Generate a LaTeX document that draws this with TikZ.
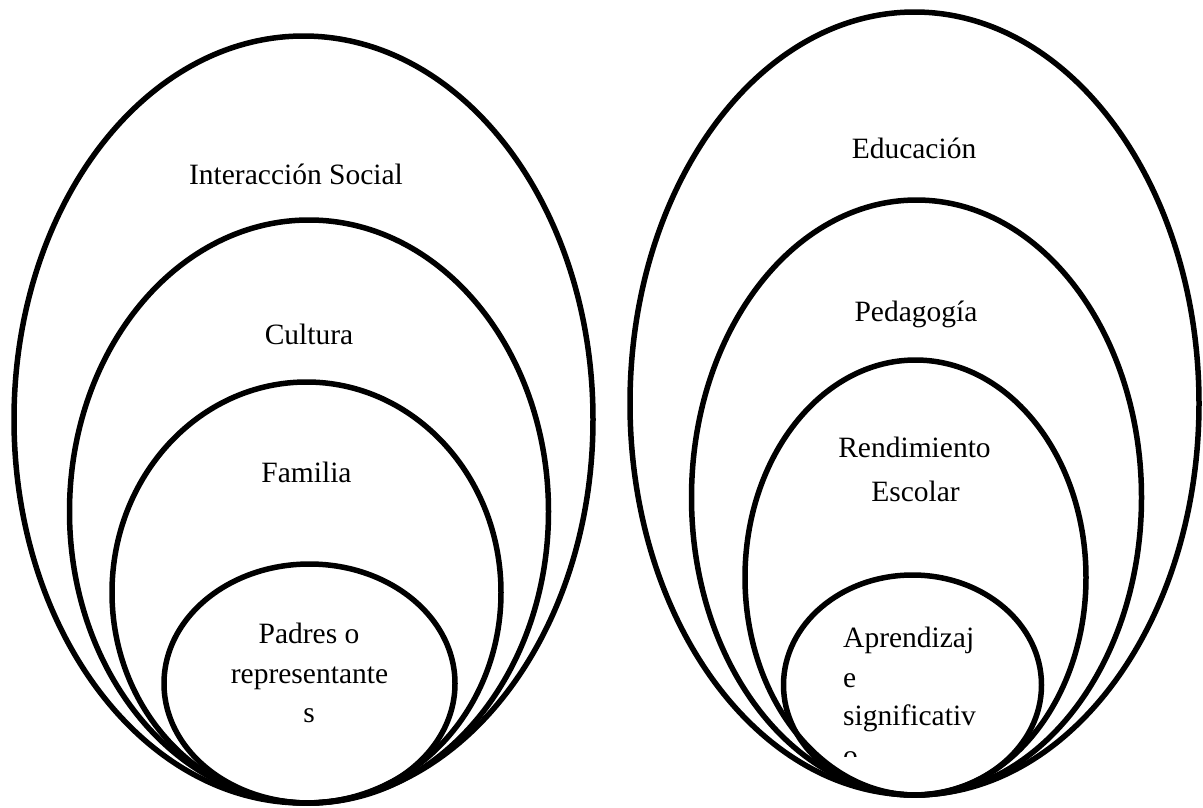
\documentclass[tikz,border=0pt]{standalone}
\usepackage{fontspec}
\setmainfont{Liberation Serif}
\begin{document}
\begin{tikzpicture}[x=1pt,y=-1pt,
  ring/.style={draw=black, line width=5.5pt},
  lbl/.style={font=\fontsize{29.5}{36}\selectfont, inner sep=0pt, anchor=base},
  lblw/.style={lbl, anchor=base west}]
\useasboundingbox (0,0) rectangle (1203,807);
% left group
\draw[ring] (303.5,419.5) ellipse [x radius=289.5, y radius=383.5];
\draw[ring] (309,511.5) ellipse [x radius=239.5, y radius=291.5];
\draw[ring] (306.5,592.5) ellipse [x radius=194.5, y radius=210.5];
\draw[ring] (309.5,683.5) ellipse [x radius=145.5, y radius=119.5];
\node[lbl] (is) at (296,184) {Interacción Social};
\node[lbl] (cu) at (309,344) {Cultura};
\node[lbl] (fa) at (306.5,482) {Familia};
\node[lbl] (p1) at (309,643) {Padres o};
\node[lbl] (p2) at (309.5,683) {representante};
\node[lbl] (p3) at (309,722) {s};
% right group
\draw[ring] (914.5,403.5) ellipse [x radius=284.5, y radius=391.5];
\draw[ring] (916.5,497.5) ellipse [x radius=225, y radius=297.5];
\draw[ring] (915.5,577.5) ellipse [x radius=170.5, y radius=217.5];
\draw[ring] (912.5,685) ellipse [x radius=129, y radius=110];
\node[lbl] (ed) at (914,158) {Educación};
\node[lbl] (pe) at (916,321) {Pedagogía};
\node[lbl] (r1) at (914.5,457) {Rendimiento};
\node[lbl] (r2) at (915.5,501) {Escolar};
\node[lblw] (a1) at (843,647) {Aprendizaj};
\node[lblw] (a2) at (843,687) {e};
\node[lblw] (a3) at (843,725) {significativ};
\begin{scope}
\clip (780,740) rectangle (1050,756);
\node[lblw] (a4) at (843,765) {o};
\end{scope}
\end{tikzpicture}
\end{document}
